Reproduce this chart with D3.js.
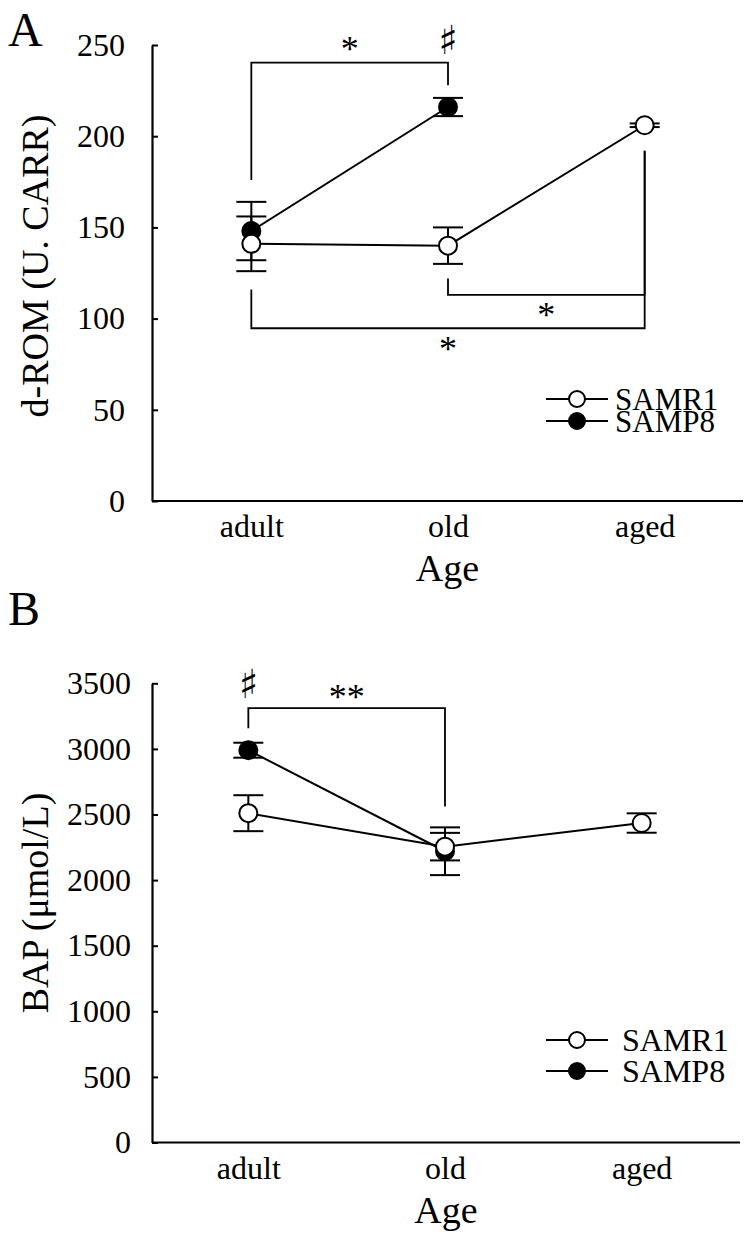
<!DOCTYPE html>
<html><head><meta charset="utf-8">
<script src="https://cdn.jsdelivr.net/npm/d3@7"></script>
<style>
body{margin:0;background:#fff}
text{font-family:"Liberation Serif","Times New Roman",serif;fill:#000}
</style>
</head><body>
<svg id="chart" width="756" height="1233"></svg>
<script>
// ---------- data ----------
const categories = ["adult", "old", "aged"];
const seriesNames = ["SAMR1", "SAMP8"];

// Panel A : d-ROM (U. CARR)
const romSAMR1   = [141, 140, 206];
const romSAMR1se = [15, 10, 1];
const romSAMP8   = [148, 216, null];
const romSAMP8se = [16, 5, null];
const romTicks   = [0, 50, 100, 150, 200, 250];

// Panel B : BAP (µmol/L)
const bapSAMR1   = [2510, 2255, 2435];
const bapSAMR1se = [137, 105, 74];
const bapSAMP8   = [2990, 2220, null];
const bapSAMP8se = [57, 182, null];
const bapTicks   = [0, 500, 1000, 1500, 2000, 2500, 3000, 3500];

// significance brackets (values in data units)
const romBrackets = [
  {from: "adult", to: "old",  leftEnd: 176, bar: 240.3, rightEnd: 228, label: "*", labelY: 250},
  {from: "old",   to: "aged", leftEnd: 122, bar: 113,   rightEnd: 192, label: "*", labelY: 104},
  {from: "adult", to: "aged", leftEnd: 116, bar: 94.7,  rightEnd: 192, label: "*", labelY: 85.5}
];
const romMarks = [{cat: "old", label: "\u266F", y: 251}];
const bapBrackets = [
  {from: "adult", to: "old", leftEnd: 3158, bar: 3311, rightEnd: 2561, label: "**", labelY: 3427}
];
const bapMarks = [{cat: "adult", label: "\u266F", y: 3473}];

// ---------- drawing ----------
const svg = d3.select("#chart");

function panel(cfg) {
  const g = svg.append("g");
  const x = d3.scalePoint().domain(categories).range(cfg.xRange).padding(0.5);
  const y = d3.scaleLinear().domain(cfg.yDomain).range(cfg.yRange);
  const axisX = cfg.axisX;

  // y axis
  const ya = g.append("g").attr("transform", `translate(${axisX},0)`)
    .call(d3.axisLeft(y).tickValues(cfg.ticks).tickFormat(d3.format("d"))
      .tickSizeInner(-6).tickSizeOuter(0).tickPadding(cfg.tickPad));
  ya.attr("font-family", null).attr("font-size", null);
  ya.select(".domain").attr("stroke-width", 2.2);
  ya.selectAll(".tick line").attr("stroke-width", 2);
  ya.selectAll(".tick text").style("font-size", "32px");

  // x axis
  const xa = g.append("g").attr("transform", `translate(0,${y(0)})`)
    .call(d3.axisBottom(x).tickSize(0).tickPadding(0));
  xa.attr("font-family", null).attr("font-size", null);
  xa.select(".domain").remove();
  xa.append("line").attr("x1", axisX).attr("x2", cfg.xRange[1]).attr("y1", 0).attr("y2", 0)
    .attr("stroke", "#000").attr("stroke-width", 2.2);
  xa.selectAll(".tick text").attr("y", 36).attr("dy", null).style("font-size", "32px");

  // axis titles
  g.append("text").attr("x", (axisX + cfg.xRange[1]) / 2).attr("y", y(0) + 80)
    .attr("text-anchor", "middle").style("font-size", "38px").text("Age");
  g.append("text").attr("transform", `translate(48,${cfg.yTitleY}) rotate(-90)`)
    .attr("text-anchor", "middle").style("font-size", "38px").text(cfg.yTitle);
  g.append("text").attr("x", 8).attr("y", cfg.letterY).style("font-size", "48px").text(cfg.letter);

  // brackets
  cfg.brackets.forEach(b => {
    const x1 = x(b.from), x2 = x(b.to);
    g.append("path")
      .attr("d", `M${x1},${y(b.leftEnd)}V${y(b.bar)}H${x2}V${y(b.rightEnd)}`)
      .attr("fill", "none").attr("stroke", "#000").attr("stroke-width", 1.8);
    g.append("text").attr("x", (x1 + x2) / 2).attr("y", y(b.labelY) + 16)
      .attr("text-anchor", "middle").style("font-size", "36px").text(b.label);
  });
  cfg.marks.forEach(m => {
    g.append("text").attr("x", x(m.cat)).attr("y", y(m.y) + 11)
      .attr("text-anchor", "middle").style("font-family", '"DejaVu Sans",sans-serif')
      .style("font-size", "40px").style("fill", "#000").text(m.label);
  });

  const series = [
    {name: "SAMP8", mean: cfg.p8, se: cfg.p8se, fill: "#000"},
    {name: "SAMR1", mean: cfg.r1, se: cfg.r1se, fill: "#fff"}
  ];
  const line = d3.line().defined(d => d.v != null).x(d => x(d.c)).y(d => y(d.v));
  series.forEach(s => {
    const pts = categories.map((c, i) => ({c, v: s.mean[i]}));
    g.append("path").datum(pts).attr("d", line)
      .attr("fill", "none").attr("stroke", "#000").attr("stroke-width", 2);
  });
  series.forEach(s => {
    categories.forEach((c, i) => {
      if (s.mean[i] == null) return;
      const cx = x(c), lo = y(s.mean[i] - s.se[i]), hi = y(s.mean[i] + s.se[i]);
      const eb = g.append("g").attr("stroke", "#000").attr("stroke-width", 2);
      eb.append("line").attr("x1", cx).attr("x2", cx).attr("y1", lo).attr("y2", hi);
      eb.append("line").attr("x1", cx - 15).attr("x2", cx + 15).attr("y1", lo).attr("y2", lo);
      eb.append("line").attr("x1", cx - 15).attr("x2", cx + 15).attr("y1", hi).attr("y2", hi);
    });
  });
  series.forEach(s => {
    categories.forEach((c, i) => {
      if (s.mean[i] == null) return;
      g.append("circle").attr("cx", x(c)).attr("cy", y(s.mean[i])).attr("r", 9)
        .attr("fill", s.fill).attr("stroke", "#000").attr("stroke-width", 2);
    });
  });

  // legend
  const fills = {SAMR1: "#fff", SAMP8: "#000"};
  seriesNames.forEach((n, i) => {
    const ly = cfg.legendY[i];
    const lg = g.append("g");
    lg.append("line").attr("x1", 546).attr("x2", 608).attr("y1", ly).attr("y2", ly)
      .attr("stroke", "#000").attr("stroke-width", 2);
    lg.append("circle").attr("cx", 577).attr("cy", ly).attr("r", 8)
      .attr("fill", fills[n]).attr("stroke", "#000").attr("stroke-width", 2);
    lg.append("text").attr("x", cfg.legendTextX).attr("y", ly + 10.5)
      .style("font-size", cfg.legendFont).text(n);
  });
}

panel({
  xRange: [153, 743], axisX: 152, yDomain: [0, 250], yRange: [501, 45], ticks: romTicks, tickPad: 27,
  yTitle: "d-ROM (U. CARR)", yTitleY: 266, letter: "A", letterY: 46,
  r1: romSAMR1, r1se: romSAMR1se, p8: romSAMP8, p8se: romSAMP8se,
  brackets: romBrackets, marks: romMarks, legendY: [399, 421], legendTextX: 615, legendFont: "31px"
});
panel({
  xRange: [150, 740], axisX: 152, yDomain: [0, 3500], yRange: [1142.5, 683.3], ticks: bapTicks, tickPad: 21,
  yTitle: "BAP (\u03BCmol/L)", yTitleY: 903, letter: "B", letterY: 625,
  r1: bapSAMR1, r1se: bapSAMR1se, p8: bapSAMP8, p8se: bapSAMP8se,
  brackets: bapBrackets, marks: bapMarks, legendY: [1040, 1071], legendTextX: 622, legendFont: "32px"
});
</script>
</body></html>
